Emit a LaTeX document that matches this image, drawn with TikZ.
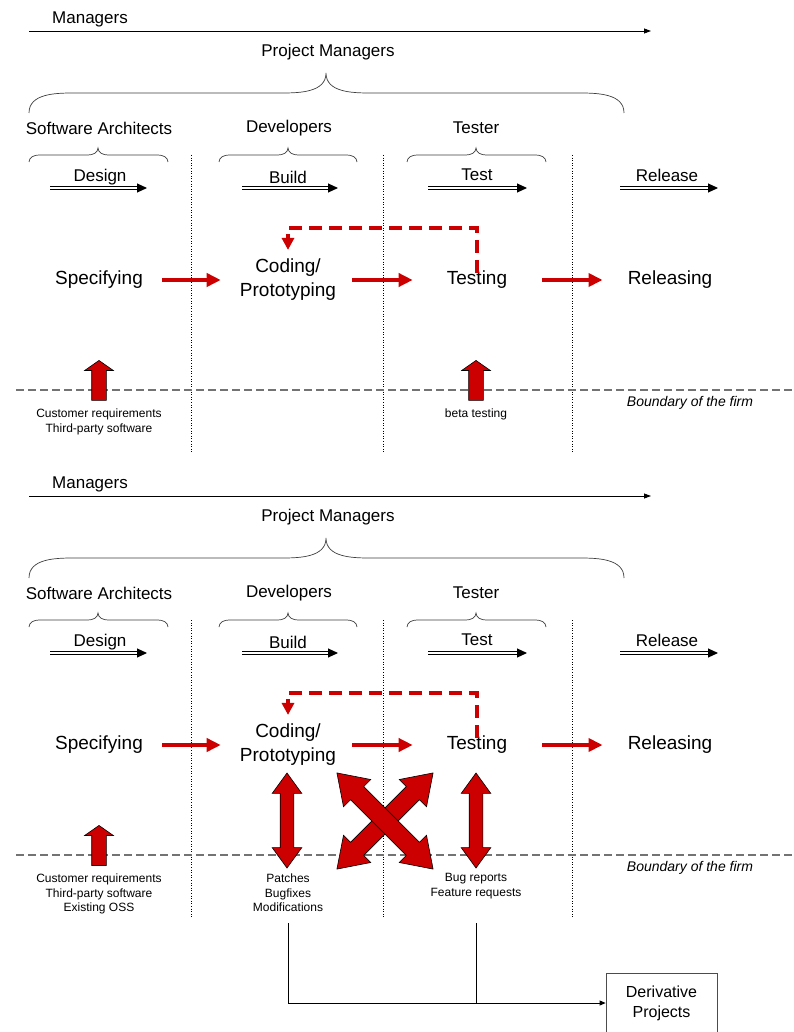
\documentclass[tikz,border=0pt]{standalone}
\usepackage{fontspec}
\setmainfont{Liberation Sans}
\usetikzlibrary{arrows.meta,shapes.arrows}

\definecolor{flowred}{RGB}{204,0,0}

% curly brace: x1, xmid, x2, y of ends, y of flat part, y of tip, bend
\newcommand{\curlybrace}[7]{%
\draw[bracel] (#1,#4) to[out=90,in=180] (#1+#7,#5) -- (#2-#7,#5) to[out=0,in=-90] (#2,#6)
  to[out=-90,in=180] (#2+#7,#5) -- (#3-#7,#5) to[out=0,in=90] (#3,#4);}

\begin{document}
\begin{tikzpicture}[x=1pt,y=-1pt,line cap=butt,
  lab/.style={inner sep=0pt,font=\fontsize{17}{20}\selectfont},
  phasetxt/.style={inner sep=0pt,font=\fontsize{19}{24}\selectfont,align=center},
  small/.style={inner sep=0pt,font=\fontsize{12}{14.5}\selectfont,align=center},
  flow/.style={flowred,line width=4pt,shorten <=19pt,shorten >=19pt,-{Triangle[length=14pt,width=13pt]}},
  loopback/.style={flowred,line width=4pt,dash pattern=on 13pt off 7pt,-{Triangle[length=12pt,width=12pt]}},
  phasearr/.style={double,double distance=1.6pt,line width=1pt,-{Triangle[length=10pt,width=9pt]}},
  bracel/.style={line width=0.7pt,black!75},
  divider/.style={dotted,line width=0.6pt},
  boundary/.style={black!55,dash pattern=on 8pt off 4pt,line width=1.4pt},
  inarrow/.style={single arrow,fill=flowred,draw=black,line width=0.6pt,inner xsep=0pt,inner ysep=7pt,
    single arrow head extend=7pt,single arrow tip angle=110,minimum height=40pt},
  exarrow/.style={double arrow,fill=flowred,draw=black,line width=0.6pt,inner xsep=0pt,inner ysep=6.5pt,
    double arrow head extend=8pt,double arrow tip angle=72,minimum height=95pt},
  crossarrow/.style={double arrow,fill=flowred,draw=black,line width=0.6pt,inner xsep=0pt,inner ysep=9pt,
    double arrow head extend=10pt,double arrow tip angle=68,minimum height=136pt}]
\useasboundingbox (0,0) rectangle (793,1032);
\fill[white] (0,0) rectangle (793,1032);

\foreach \p/\dy in {a/0,b/465}{
\begin{scope}[shift={(0,\dy)}]
% roles
\node[lab] (mgr\p) at (90,19) {Managers};
\draw[line width=0.8pt,-{Triangle[length=7pt,width=5pt]}] (29,31) -- (651,31);
\node[lab] (pm\p) at (328,52) {Project Managers};
\curlybrace{29}{326}{624}{113}{93}{73}{44}
\node[lab] (arch\p) at (99,128) {Software Architects};
\node[lab] (dev\p) at (289,128) {Developers};
\node[lab] (tstr\p) at (476,128) {Tester};
\curlybrace{29}{98}{168}{162}{155}{148}{10}
\curlybrace{219}{288}{357}{162}{155}{148}{10}
\curlybrace{407}{476}{546}{162}{155}{148}{10}
% phases
\node[lab] (des\p) at (100,177) {Design};
\node[lab] (bld\p) at (288,177) {Build};
\node[lab] (tes\p) at (477,175) {Test};
\node[lab] (rel\p) at (667,175) {Release};
\draw[phasearr] (50,188) -- (147,188);
\draw[phasearr] (242,188) -- (338,188);
\draw[phasearr] (428,188) -- (527,188);
\draw[phasearr] (620,188) -- (718,188);
\foreach \x in {191,383,572}
  \draw[divider] (\x,155) -- (\x,452);
% process
\node[phasetxt] (spec\p) at (99,280) {Specifying};
\node[phasetxt] (code\p) at (288,280) {Coding/\\Prototyping};
\node[phasetxt] (test\p) at (477,280) {Testing};
\node[phasetxt] (relg\p) at (670,280) {Releasing};
\draw[flow] (spec\p) -- (spec\p -| code\p.west);
\draw[flow,shorten <=16pt,shorten >=34pt] (code\p.east |- test\p) -- (test\p.west);
\draw[flow,shorten <=35pt,shorten >=25pt] (test\p.east) -- (relg\p);
\draw[loopback] ([yshift=-2pt]test\p.north) |- ([yshift=31pt]code\p.north) -- ([yshift=9pt]code\p.north);
% firm boundary
\draw[boundary] (16,390) -- (793,390);
\node[inner sep=0pt,font=\fontsize{14}{16}\selectfont\itshape] (firm\p) at (690,403) {Boundary of the firm};
\node[inarrow,rotate=90] (cin\p) at (99,383) {};
\end{scope}
}

% first panel
\node[small] (cust) at (99,422) {Customer requirements\\Third-party software};
\node[inarrow,rotate=90] (beta arr) at (476,383) {};
\node[small] (beta) at (476,414) {beta testing};

% second panel
\node[small] (custb) at (99,894) {Customer requirements\\Third-party software\\Existing OSS};
\node[small] (patch) at (288,893) {Patches\\Bugfixes\\Modifications};
\node[small] (bugs) at (476,886) {Bug reports\\Feature requests};
\node[exarrow,rotate=90] (xpatch) at (287,820.5) {};
\node[exarrow,rotate=90] (xbugs) at (476,820.5) {};
\node[crossarrow,rotate=45] (xa) at (385,821) {};
\node[crossarrow,rotate=-45] (xb) at (385,821) {};

\node[draw=black!70,line width=0.8pt,minimum width=111pt,minimum height=60pt,inner sep=0pt,
  font=\fontsize{16}{20}\selectfont,align=center] (deriv) at (661.5,1003) {Derivative\\Projects};
\draw[line width=0.8pt,-{Triangle[length=6pt,width=5pt]}] (patch.south) ++(0,11) |- (deriv.west);
\draw[line width=0.8pt] (bugs.south |- patch.south) ++(0,11) -- (bugs.south |- deriv.west);
\end{tikzpicture}
\end{document}
